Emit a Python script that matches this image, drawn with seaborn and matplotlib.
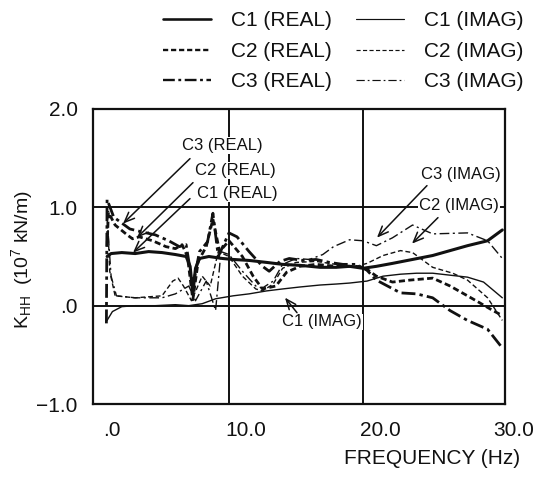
import matplotlib
matplotlib.use("Agg")
import matplotlib.pyplot as plt
import matplotlib.transforms as mtransforms
from matplotlib.lines import Line2D
import seaborn as sns
import pandas as pd

# ---------------- data ----------------
c1_real_f = [0.9, 1.2, 2.0, 3.0, 4.0, 5.0, 6.0, 6.8, 7.1, 7.3, 7.5, 7.8, 8.5, 9.5, 10.3, 11.5, 12.8,
             14.0, 15.3, 16.8, 18.0, 19.0, 20.0, 21.0, 22.2, 23.7, 25.2, 26.5, 27.8, 29.3, 30.4]
c1_real_v = [0.50, 0.53, 0.54, 0.53, 0.55, 0.54, 0.52, 0.50, 0.40, 0.12, 0.38, 0.48, 0.50, 0.48, 0.47, 0.46, 0.44,
             0.42, 0.41, 0.39, 0.39, 0.40, 0.38, 0.40, 0.43, 0.47, 0.51, 0.56, 0.61, 0.66, 0.77]

c1_imag_f = [0.9, 1.3, 2.0, 3.0, 4.5, 6.0, 7.0, 8.0, 9.0, 10.3, 11.5, 12.8, 14.0, 15.3, 16.8, 18.0,
             19.0, 20.3, 21.5, 22.8, 24.0, 25.2, 26.5, 27.8, 29.0, 30.4]
c1_imag_v = [-0.15, -0.06, -0.01, 0.00, 0.00, 0.01, 0.00, 0.02, 0.07, 0.10, 0.12, 0.15, 0.17, 0.19, 0.21, 0.22,
             0.23, 0.25, 0.30, 0.32, 0.33, 0.33, 0.31, 0.29, 0.24, 0.08]

c2_real_f = [0.9, 1.0, 1.5, 2.4, 2.8, 3.3, 4.3, 5.3, 6.0, 6.5, 6.9, 7.3, 7.7, 8.3, 8.8, 9.3, 10.0, 11.0,
             11.8, 12.5, 13.5, 14.3, 15.3, 16.5, 18.0, 19.5, 20.3, 21.0, 22.2, 23.5, 25.2, 26.5, 27.8,
             28.7, 29.7, 30.4]
c2_real_v = [0.60, 0.95, 0.82, 0.72, 0.68, 0.70, 0.66, 0.60, 0.58, 0.62, 0.50, 0.06, 0.45, 0.60, 0.88, 0.55,
             0.66, 0.50, 0.30, 0.17, 0.20, 0.34, 0.40, 0.42, 0.40, 0.40, 0.37, 0.30, 0.24, 0.26, 0.28,
             0.20, 0.10, 0.03, -0.05, -0.10]

c2_imag_f = [0.9, 1.1, 1.5, 3.0, 5.0, 5.8, 6.2, 6.6, 7.2, 8.0, 8.6, 9.2, 10.0, 11.0, 12.0, 12.5,
             13.3, 14.0, 15.0, 16.5, 18.0, 19.5, 20.3, 21.5, 22.8, 23.7, 25.2, 26.7, 27.8, 29.3, 30.4]
c2_imag_v = [1.00, 0.35, 0.10, 0.08, 0.10, 0.25, 0.28, 0.20, 0.05, 0.30, 0.20, 0.55, 0.50, 0.30, 0.17, 0.15,
             0.22, 0.38, 0.44, 0.45, 0.42, 0.40, 0.43, 0.51, 0.56, 0.54, 0.39, 0.33, 0.26, 0.08, -0.15]

c3_real_f = [0.85, 0.9, 1.4, 2.0, 2.6, 3.5, 4.5, 5.5, 6.3, 6.8, 7.3, 7.8, 8.4, 8.8, 9.2, 10.0, 10.6, 11.5,
             12.5, 13.0, 13.8, 14.5, 15.5, 16.5, 17.5, 18.5, 19.5, 20.3, 21.0, 22.8, 24.0, 25.2, 26.5,
             27.8, 29.3, 30.4]
c3_real_v = [-0.18, 1.08, 0.90, 0.84, 0.78, 0.75, 0.72, 0.66, 0.60, 0.62, 0.20, 0.55, 0.65, 0.94, 0.50, 0.74,
             0.70, 0.55, 0.40, 0.35, 0.45, 0.48, 0.46, 0.47, 0.44, 0.42, 0.42, 0.36, 0.26, 0.13, 0.12, 0.08,
             -0.05, -0.15, -0.24, -0.43]

c3_imag_f = [0.9, 1.2, 1.6, 3.0, 5.0, 6.0, 7.0, 7.5, 8.3, 9.0, 9.4, 10.0, 11.0, 12.0, 12.5, 13.3, 14.0,
             15.0, 16.0, 17.0, 17.8, 19.0, 20.0, 21.0, 22.2, 23.7, 25.2, 27.8, 29.3, 30.4]
c3_imag_v = [0.90, 0.30, 0.10, 0.08, 0.08, 0.12, 0.20, 0.05, 0.25, -0.05, 0.55, 0.52, 0.35, 0.20, 0.18, 0.25, 0.42,
             0.48, 0.47, 0.52, 0.60, 0.67, 0.66, 0.61, 0.69, 0.82, 0.73, 0.74, 0.66, 0.48]

series_names = ["C1 (REAL)", "C2 (REAL)", "C3 (REAL)", "C1 (IMAG)", "C2 (IMAG)", "C3 (IMAG)"]
x_ticks = [0, 10, 20, 30]
x_tick_labels = [".0", "10.0", "20.0", "30.0"]
y_ticks = [-1, 0, 1, 2]
y_tick_labels = ["\u22121.0", ".0", "1.0", "2.0"]

# ---------------- style ----------------
sns.set_theme(style="white")
plt.rcParams["font.family"] = ["Liberation Sans", "DejaVu Sans"]
plt.rcParams["mathtext.fontset"] = "custom"
plt.rcParams["mathtext.rm"] = "Liberation Sans"
plt.rcParams["mathtext.it"] = "Liberation Sans"

INK = "#111111"
fig = plt.figure(figsize=(5.43, 4.83), dpi=100)
ax = fig.add_axes([93 / 543, 1 - 404 / 483, 412 / 543, 295 / 483])

styles = {
    "C1 (REAL)": dict(lw=2.2, ls="-"),
    "C2 (REAL)": dict(lw=2.0, ls=(0, (2.2, 1.2))),
    "C3 (REAL)": dict(lw=2.0, ls=(0, (5, 1.5, 1.2, 1.5))),
    "C1 (IMAG)": dict(lw=1.0, ls="-"),
    "C2 (IMAG)": dict(lw=1.0, ls=(0, (3.5, 2))),
    "C3 (IMAG)": dict(lw=1.0, ls=(0, (7, 2.5, 1.5, 2.5))),
}
data = {
    "C1 (REAL)": (c1_real_f, c1_real_v),
    "C2 (REAL)": (c2_real_f, c2_real_v),
    "C3 (REAL)": (c3_real_f, c3_real_v),
    "C1 (IMAG)": (c1_imag_f, c1_imag_v),
    "C2 (IMAG)": (c2_imag_f, c2_imag_v),
    "C3 (IMAG)": (c3_imag_f, c3_imag_v),
}

handles = []
for name in series_names:
    f, v = data[name]
    df = pd.DataFrame({"f": f, "k": v})
    st = styles[name]
    sns.lineplot(data=df, x="f", y="k", ax=ax, color=INK, linewidth=st["lw"],
                 linestyle=st["ls"], sort=False, estimator=None)
    handles.append(Line2D([], [], color=INK, linewidth=st["lw"] * 0.85, linestyle=st["ls"]))

# grid lines (only at inner ticks)
for gx in [10, 20]:
    ax.axvline(gx, color=INK, lw=1.4, zorder=0)
for gy in [0, 1]:
    ax.axhline(gy, color=INK, lw=1.4, zorder=0)

ax.set_xlim(-0.15, 30.6)
ax.set_ylim(-1, 2)
ax.set_xticks(x_ticks)
ax.set_xticklabels(x_tick_labels, fontsize=15)
ax.set_yticks(y_ticks)
ax.set_yticklabels(y_tick_labels, fontsize=15)
ax.tick_params(axis="both", length=0, colors=INK)
ax.tick_params(axis="x", pad=12)
ax.tick_params(axis="y", pad=11)
offset = mtransforms.ScaledTranslation(17 / 100, 0, fig.dpi_scale_trans)
for lab in ax.get_xticklabels():
    lab.set_transform(lab.get_transform() + offset)
for sp in ax.spines.values():
    sp.set_color(INK)
    sp.set_linewidth(1.6)
ax.set_xlabel("")
ax.set_ylabel(r"K$_{\mathrm{HH}}$  (10$^{7}$ kN/m)", fontsize=14, color=INK)
ax.yaxis.set_label_coords(-0.14, 0.49)
fig.text(520 / 543, 1 - 459 / 483, "FREQUENCY (Hz)", ha="right", va="center", fontsize=15, color=INK)

# legend
leg = ax.legend(handles, series_names, ncol=2, frameon=False, fontsize=15,
                loc="upper left", bbox_to_anchor=(153 / 543, 1 - 1 / 483),
                bbox_transform=fig.transFigure, handlelength=2.3, handletextpad=0.95,
                columnspacing=1.15, labelspacing=0.55, borderpad=0.0)
for t in leg.get_texts():
    t.set_color(INK)

# annotations
def px2data(px, py):
    return ((px - 95) / 13.4, (305 - py) / 98.3)

ann = [
    ("C3 (REAL)", (222, 145), (190, 158), (123, 223)),
    ("C2 (REAL)", (235, 170), (193, 182), (137, 237)),
    ("C1 (REAL)", (237, 193), (190, 198), (133, 252)),
    ("C3 (IMAG)", (461, 174), (427, 185), (377, 237)),
    ("C2 (IMAG)", (459, 205), (438, 217), (412, 243)),
    ("C1 (IMAG)", (322, 321), (297, 312), (285, 297)),
]
for txt, tpos, start, tip in ann:
    tx, ty = px2data(*tpos)
    ax.text(tx, ty, txt, ha="center", va="center", fontsize=12, color=INK,
            bbox=dict(facecolor="white", edgecolor="none", pad=0.5))
    ax.annotate("", xy=px2data(*tip), xytext=px2data(*start),
                arrowprops=dict(arrowstyle="->,head_length=0.6,head_width=0.25",
                                color=INK, lw=1.1, shrinkA=0, shrinkB=0))

fig.savefig("out.png", dpi=100, facecolor="white")
